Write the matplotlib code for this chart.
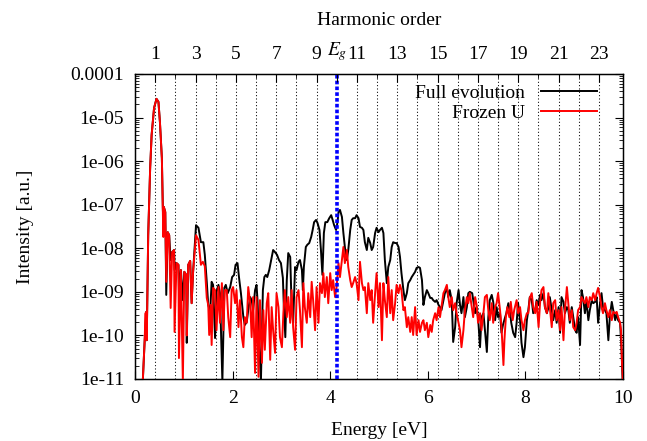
import numpy as np
import matplotlib
matplotlib.use("Agg")
import matplotlib.pyplot as plt
from matplotlib.ticker import LogLocator, NullFormatter, FixedLocator

# ---------------- data ----------------
full_energy = [0.14, 0.20, 0.23, 0.24, 0.27, 0.31, 0.34, 0.39, 0.44, 0.48, 0.51, 0.55, 0.57, 0.58, 0.59,
               0.62, 0.64, 0.67, 0.70, 0.73, 0.76, 0.80, 0.81, 0.85, 0.89, 0.90, 0.94, 0.98, 1.01, 1.05,
               1.06, 1.09, 1.13, 1.16, 1.19, 1.25, 1.30, 1.35, 1.40, 1.43, 1.47, 1.50, 1.54, 1.57, 1.60,
               1.64, 1.67, 1.71, 1.74, 1.79, 1.83, 1.86, 1.90, 1.95, 1.99, 2.03, 2.06, 2.10, 2.13, 2.17,
               2.22, 2.25, 2.29, 2.32, 2.36, 2.39, 2.42, 2.46, 2.49, 2.51, 2.55, 2.58, 2.62, 2.65, 2.68,
               2.71, 2.75, 2.79, 2.83, 2.87, 2.91, 2.95, 2.99, 3.03, 3.05, 3.08, 3.11, 3.14, 3.18, 3.21,
               3.24, 3.28, 3.31, 3.35, 3.38, 3.42, 3.44, 3.46, 3.50, 3.53, 3.57, 3.61, 3.64, 3.67, 3.71,
               3.74, 3.78, 3.81, 3.84, 3.87, 3.90, 3.94, 3.98, 4.02, 4.05, 4.08, 4.12, 4.15, 4.17, 4.20,
               4.24, 4.27, 4.30, 4.34, 4.37, 4.41, 4.44, 4.47, 4.51, 4.54, 4.58, 4.61, 4.65, 4.68, 4.71,
               4.75, 4.78, 4.82, 4.85, 4.88, 4.92, 4.95, 4.99, 5.02, 5.06, 5.09, 5.12, 5.16, 5.19, 5.23,
               5.26, 5.29, 5.33, 5.36, 5.40, 5.43, 5.46, 5.50, 5.53, 5.57, 5.60, 5.64, 5.67, 5.70, 5.74,
               5.77, 5.81, 5.84, 5.88, 5.91, 5.94, 5.98, 6.01, 6.05, 6.08, 6.11, 6.15, 6.18, 6.22, 6.25,
               6.28, 6.32, 6.35, 6.39, 6.42, 6.45, 6.49, 6.52, 6.56, 6.59, 6.63, 6.66, 6.69, 6.73, 6.76,
               6.80, 6.83, 6.86, 6.91, 6.97, 7.00, 7.03, 7.07, 7.10, 7.14, 7.17, 7.21, 7.24, 7.27, 7.31,
               7.34, 7.38, 7.41, 7.44, 7.48, 7.51, 7.54, 7.58, 7.61, 7.65, 7.68, 7.71, 7.75, 7.79, 7.82,
               7.85, 7.89, 7.92, 7.96, 7.99, 8.03, 8.06, 8.09, 8.13, 8.16, 8.20, 8.23, 8.27, 8.30, 8.33,
               8.37, 8.40, 8.44, 8.47, 8.50, 8.54, 8.57, 8.61, 8.64, 8.68, 8.71, 8.74, 8.78, 8.81, 8.85,
               8.88, 8.91, 8.95, 8.98, 9.02, 9.05, 9.08, 9.12, 9.15, 9.18, 9.22, 9.25, 9.29, 9.32, 9.36,
               9.39, 9.43, 9.46, 9.49, 9.53, 9.56, 9.59, 9.63, 9.66, 9.70, 9.73, 9.77, 9.80, 9.84, 9.87,
               9.90, 9.94, 9.97, 9.99, 10.0]
full_log10 = [-11.5, -10.06, -9.46, -10.11, -7.70, -6.16, -5.40, -4.78, -4.57, -4.64, -5.10, -5.93, -7.08, -7.40, -7.05,
              -7.17, -9.07, -7.63, -7.70, -8.27, -8.09, -8.04, -8.50, -8.34, -8.38, -8.96, -8.50, -9.19, -8.54, -8.61,
              -10.17, -8.38, -8.29, -9.26, -8.54, -7.47, -7.53, -7.86, -7.86, -8.15, -8.77, -9.30, -9.46, -8.77, -8.84,
              -10.06, -9.00, -8.84, -9.03, -11.05, -8.91, -8.84, -9.03, -8.89, -8.66, -8.61, -8.38, -8.34, -8.66, -9.03,
              -9.58, -9.76, -9.69, -9.42, -9.12, -9.19, -9.42, -8.96, -8.84, -9.19, -10.33, -11.05, -8.96, -8.66, -8.61,
              -8.66, -8.50, -8.27, -8.04, -8.09, -8.15, -8.27, -8.34, -8.68, -9.35, -10.04, -8.73, -8.11, -8.20, -9.35,
              -9.71, -8.43, -8.50, -8.31, -8.27, -8.50, -8.96, -8.43, -7.97, -7.92, -7.88, -7.74, -7.58, -7.40, -7.35,
              -7.42, -7.58, -8.04, -8.61, -7.65, -7.40, -7.40, -7.31, -7.24, -7.35, -7.47, -7.58, -7.40, -7.17, -7.12,
              -7.28, -7.65, -7.97, -8.27, -8.04, -7.58, -7.35, -7.31, -7.31, -7.24, -7.31, -7.51, -7.53, -7.58, -7.86,
              -8.04, -7.76, -7.88, -8.04, -7.97, -7.65, -7.53, -7.63, -7.58, -7.53, -7.65, -8.27, -8.80, -8.43, -8.27,
              -7.97, -7.86, -7.88, -7.88, -7.97, -8.20, -8.57, -8.96, -9.19, -9.03, -8.80, -8.73, -8.66, -8.61, -8.54,
              -8.45, -8.43, -8.45, -8.73, -9.30, -9.12, -8.96, -9.03, -9.14, -9.14, -9.19, -9.23, -9.19, -9.30, -9.35,
              -9.42, -9.19, -9.03, -8.91, -9.12, -8.96, -9.19, -10.15, -9.81, -9.26, -8.96, -9.30, -9.49, -9.12, -9.58,
              -9.35, -9.03, -9.00, -9.03, -9.49, -9.35, -9.58, -10.27, -9.58, -9.49, -9.88, -10.38, -9.58, -9.19, -9.07,
              -9.23, -9.65, -9.35, -9.58, -9.49, -9.94, -9.76, -9.60, -9.49, -9.26, -9.42, -9.71, -9.94, -10.04, -9.71,
              -9.26, -9.65, -10.17, -10.50, -10.27, -9.65, -9.42, -9.12, -9.19, -9.49, -9.42, -9.19, -9.30, -9.07, -9.19,
              -9.03, -9.35, -9.49, -9.37, -9.12, -9.42, -9.65, -9.42, -9.71, -9.35, -9.94, -9.12, -9.23, -9.49, -9.35,
              -9.42, -9.71, -9.35, -9.58, -9.88, -9.94, -9.58, -10.22, -8.96, -9.12, -9.49, -9.19, -9.65, -9.42, -9.19,
              -9.26, -9.23, -9.12, -9.71, -9.26, -9.03, -9.35, -9.42, -9.49, -10.11, -9.58, -9.23, -9.42, -9.65, -9.49,
              -9.65, -9.71, -10.33, -10.95, -11.3]

frozen_energy = [0.14, 0.20, 0.21, 0.23, 0.24, 0.27, 0.31, 0.34, 0.39, 0.44, 0.48, 0.51, 0.55, 0.57, 0.58,
                 0.59, 0.62, 0.64, 0.67, 0.70, 0.73, 0.76, 0.80, 0.81, 0.85, 0.89, 0.90, 0.94, 0.98, 1.01,
                 1.05, 1.06, 1.09, 1.13, 1.16, 1.19, 1.25, 1.30, 1.35, 1.39, 1.43, 1.47, 1.50, 1.52, 1.55,
                 1.57, 1.60, 1.64, 1.67, 1.71, 1.74, 1.78, 1.81, 1.84, 1.88, 1.91, 1.95, 1.98, 2.01, 2.05,
                 2.08, 2.12, 2.15, 2.19, 2.22, 2.25, 2.29, 2.32, 2.36, 2.39, 2.42, 2.46, 2.49, 2.53, 2.56,
                 2.60, 2.63, 2.66, 2.70, 2.73, 2.77, 2.80, 2.83, 2.87, 2.90, 2.94, 2.97, 3.01, 3.04, 3.07,
                 3.11, 3.14, 3.18, 3.21, 3.24, 3.28, 3.31, 3.35, 3.38, 3.42, 3.45, 3.48, 3.52, 3.55, 3.59,
                 3.62, 3.65, 3.69, 3.72, 3.76, 3.79, 3.83, 3.86, 3.89, 3.93, 3.96, 4.00, 4.03, 4.06, 4.10,
                 4.13, 4.17, 4.20, 4.24, 4.27, 4.30, 4.34, 4.37, 4.41, 4.44, 4.47, 4.51, 4.54, 4.58, 4.61,
                 4.65, 4.68, 4.71, 4.75, 4.78, 4.82, 4.85, 4.88, 4.92, 4.95, 4.99, 5.02, 5.06, 5.09, 5.12,
                 5.16, 5.19, 5.23, 5.26, 5.29, 5.33, 5.36, 5.40, 5.43, 5.46, 5.50, 5.53, 5.57, 5.60, 5.64,
                 5.67, 5.70, 5.74, 5.77, 5.81, 5.84, 5.88, 5.91, 5.94, 5.98, 6.01, 6.05, 6.08, 6.11, 6.15,
                 6.18, 6.22, 6.25, 6.28, 6.32, 6.35, 6.39, 6.42, 6.45, 6.49, 6.52, 6.56, 6.59, 6.63, 6.66,
                 6.69, 6.73, 6.76, 6.80, 6.83, 6.86, 6.90, 6.93, 6.97, 7.00, 7.03, 7.07, 7.10, 7.14, 7.17,
                 7.21, 7.24, 7.27, 7.31, 7.34, 7.38, 7.41, 7.44, 7.48, 7.51, 7.55, 7.57, 7.60, 7.63, 7.67,
                 7.70, 7.74, 7.77, 7.82, 7.85, 7.89, 7.92, 7.96, 7.99, 8.03, 8.06, 8.09, 8.13, 8.16, 8.20,
                 8.23, 8.27, 8.30, 8.33, 8.37, 8.40, 8.44, 8.47, 8.50, 8.54, 8.57, 8.61, 8.64, 8.68, 8.71,
                 8.74, 8.78, 8.81, 8.85, 8.88, 8.91, 8.95, 8.98, 9.02, 9.05, 9.08, 9.12, 9.15, 9.18, 9.22,
                 9.25, 9.29, 9.32, 9.36, 9.39, 9.43, 9.46, 9.49, 9.53, 9.56, 9.59, 9.63, 9.66, 9.70, 9.73,
                 9.77, 9.80, 9.84, 9.87, 9.90, 9.94, 9.96, 9.98, 10.0]
frozen_log10 = [-11.5, -10.06, -9.50, -9.46, -10.11, -7.70, -6.16, -5.40, -4.78, -4.57, -4.64, -5.10, -5.93, -7.08, -7.74,
                -7.05, -7.17, -8.77, -7.63, -7.70, -9.37, -8.09, -8.04, -9.92, -8.34, -8.38, -10.52, -8.50, -11.05, -8.54,
                -8.61, -10.00, -8.38, -8.29, -9.26, -8.54, -7.70, -7.81, -8.38, -8.31, -8.41, -9.14, -9.30, -9.99, -9.30,
                -10.22, -8.91, -8.96, -9.88, -8.89, -9.71, -8.80, -9.88, -8.96, -8.96, -9.58, -10.04, -8.96, -8.89, -9.26,
                -8.96, -9.81, -9.19, -10.04, -10.27, -9.58, -9.71, -8.89, -9.26, -10.04, -9.12, -10.86, -9.12, -10.95, -9.19,
                -10.63, -9.42, -10.33, -9.26, -9.03, -10.56, -9.35, -9.88, -10.40, -9.03, -9.35, -10.04, -10.27, -9.49, -8.96,
                -9.58, -9.12, -9.71, -8.96, -9.81, -10.33, -9.12, -8.96, -9.42, -10.27, -8.80, -9.35, -9.71, -9.03, -9.58,
                -8.77, -9.19, -9.88, -8.89, -9.71, -8.80, -9.03, -8.57, -9.12, -8.66, -9.26, -8.57, -8.96, -8.73, -9.12,
                -8.89, -8.34, -8.66, -8.27, -7.97, -8.34, -8.04, -8.43, -8.73, -8.89, -8.80, -8.66, -8.80, -9.19, -8.31,
                -8.80, -8.96, -8.89, -9.49, -8.80, -9.19, -8.96, -9.71, -9.03, -8.57, -9.35, -8.80, -10.11, -8.80, -9.19,
                -9.58, -8.66, -9.49, -8.96, -9.65, -9.26, -8.84, -9.03, -8.84, -8.96, -9.42, -9.35, -9.81, -9.58, -9.92,
                -9.58, -9.99, -9.35, -9.99, -9.65, -9.92, -9.71, -9.65, -9.88, -9.71, -10.04, -9.76, -9.92, -9.65, -9.49,
                -9.65, -9.35, -9.58, -9.35, -9.03, -8.96, -8.84, -9.12, -9.35, -9.12, -9.42, -9.26, -9.49, -9.71, -9.88,
                -10.27, -9.88, -9.42, -9.12, -9.26, -9.03, -9.35, -9.58, -9.12, -9.30, -9.71, -9.49, -9.88, -9.49, -9.12,
                -9.07, -9.42, -9.65, -9.26, -9.71, -9.35, -9.26, -9.03, -9.42, -9.81, -10.68, -10.11, -9.58, -9.35, -9.58,
                -9.23, -9.65, -9.42, -9.19, -9.49, -9.35, -9.65, -9.88, -9.65, -9.49, -9.49, -9.14, -9.03, -9.35, -9.49,
                -9.23, -9.81, -9.26, -8.96, -8.89, -9.35, -9.49, -9.03, -9.35, -9.81, -9.26, -9.19, -9.65, -9.42, -9.88,
                -9.35, -10.11, -9.42, -8.89, -9.26, -9.65, -9.42, -9.81, -9.88, -9.71, -9.42, -9.35, -9.12, -9.19, -9.26,
                -9.12, -9.35, -9.12, -9.19, -9.03, -9.19, -9.03, -8.91, -9.12, -9.35, -9.49, -9.26, -9.42, -9.58, -9.42,
                -9.65, -9.46, -9.49, -9.46, -9.58, -9.71, -9.88, -10.63, -11.05]

harmonic_energy = 0.4133          # photon energy of the driving field [eV]
harmonic_orders = list(range(1, 24))
labelled_orders = [1, 3, 5, 7, 9, 10, 11, 13, 15, 17, 19, 21, 23]
labelled_text = ["1", "3", "5", "7", "9", r"$E_g$", "11", "13", "15", "17", "19", "21", "23"]
gap_order = 10
y_ticks = [1e-11, 1e-10, 1e-9, 1e-8, 1e-7, 1e-6, 1e-5, 1e-4]
y_tick_labels = ["1e-11", "1e-10", "1e-09", "1e-08", "1e-07", "1e-06", "1e-05", "0.0001"]
x_ticks = [0, 2, 4, 6, 8, 10]

full = 10.0 ** np.array(full_log10)
frozen = 10.0 ** np.array(frozen_log10)

# ---------------- plot ----------------
plt.rcParams["font.family"] = ["Liberation Serif", "DejaVu Serif"]
plt.rcParams["mathtext.fontset"] = "stix"
plt.rcParams["font.size"] = 14

fig = plt.figure(figsize=(6.47, 4.41), dpi=100)
ax = fig.add_axes([0.2087, 0.1406, 0.7542, 0.6916])

for n in harmonic_orders:
    if n == gap_order:
        continue
    ax.axvline(n * harmonic_energy, color="black", lw=0.75, ls=(0, (1, 2.2)), zorder=1)
ax.axvline(gap_order * harmonic_energy, color="#0000ff", lw=2.6, ls=(0, (1, 0.6)), zorder=4)

ax.plot(full_energy, full, color="black", lw=1.4, label="Full evolution", zorder=2)
ax.plot(frozen_energy, frozen, color="#ff0000", lw=1.4, label="Frozen U", zorder=3)

ax.set_yscale("log")
ax.set_xlim(0, 10)
ax.set_ylim(1e-11, 1e-4)
ax.set_yticks(y_ticks)
ax.set_yticklabels(y_tick_labels)
ax.yaxis.set_minor_locator(LogLocator(base=10, subs=np.arange(2, 10), numticks=20))
ax.yaxis.set_minor_formatter(NullFormatter())
ax.set_xticks(x_ticks)
ax.set_xticklabels([str(v) for v in x_ticks])
ax.tick_params(which="major", direction="in", length=6, width=0.8, top=False, right=True, pad=8)
ax.tick_params(which="minor", direction="in", length=3, width=0.6, right=True)
ax.tick_params(axis="x", which="both", bottom=True, top=False)

ax.set_xlabel("Energy [eV]", labelpad=11)
ax.set_ylabel("Intensity [a.u.]", labelpad=26)

for s in ax.spines.values():
    s.set_linewidth(1.0)

ax2 = ax.twiny()
ax2.set_xlim(0, 10)
ax2.set_xticks([n * harmonic_energy for n in labelled_orders])
ax2.set_xticklabels(labelled_text)
ax2.xaxis.set_minor_locator(FixedLocator([n * harmonic_energy for n in harmonic_orders if n % 2 == 0 and n != gap_order]))
ax2.tick_params(which="major", direction="in", length=6, width=0.8, pad=8)
ax2.tick_params(which="minor", direction="in", length=3, width=0.6)
ax2.set_xlabel("Harmonic order", labelpad=11)

leg = ax.legend(loc="upper right", bbox_to_anchor=(0.975, 1.012), frameon=False, markerfirst=False,
                handlelength=2.9, handletextpad=0.8, labelspacing=0.15, borderaxespad=0.3)

fig.savefig("out.png", dpi=100)
